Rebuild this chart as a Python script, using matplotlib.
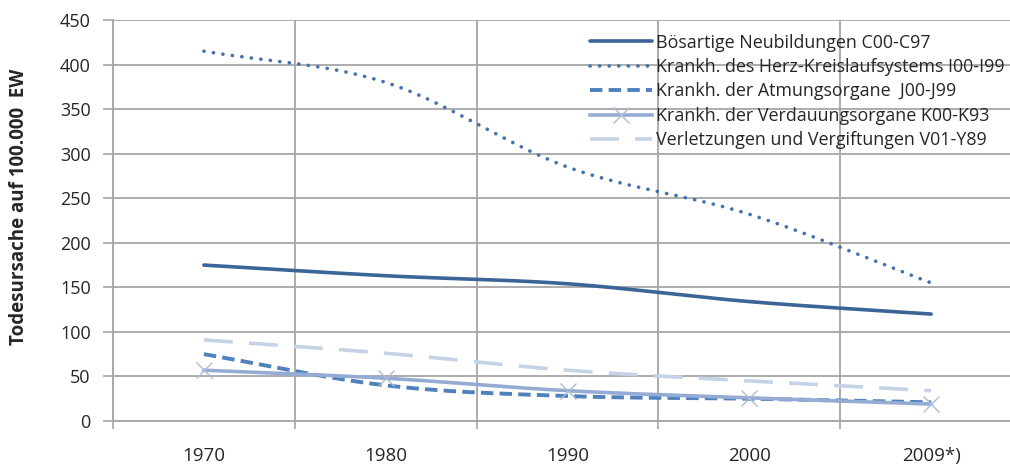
import numpy as np
import matplotlib
matplotlib.use("Agg")
import matplotlib.pyplot as plt
from matplotlib.lines import Line2D

plt.rcParams['font.family'] = ['Open Sans', 'DejaVu Sans']

years = ['1970', '1980', '1990', '2000', '2009*)']
neubildungen = [175, 163, 154, 134, 120]
herz_kreislauf = [415, 380, 285, 232, 155]
atmung = [75, 40, 28, 25, 21]
verdauung = [57, 48, 34, 26, 19]
verletzungen = [91, 76, 57, 45, 34]

labels = ['Bösartige Neubildungen C00-C97',
          'Krankh. des Herz-Kreislaufsystems I00-I99',
          'Krankh. der Atmungsorgane  J00-J99',
          'Krankh. der Verdauungsorgane K00-K93',
          'Verletzungen und Vergiftungen V01-Y89']


def smooth(y, n=40):
    """Catmull-Rom curve through the points, like Excel's smoothed line"""
    y = np.asarray(y, dtype=float)
    x = np.arange(len(y), dtype=float)
    px = np.concatenate([[2 * x[0] - x[1]], x, [2 * x[-1] - x[-2]]])
    py = np.concatenate([[2 * y[0] - y[1]], y, [2 * y[-1] - y[-2]]])
    xs, ys = [], []
    t = np.linspace(0, 1, n)
    for i in range(1, len(px) - 2):
        for p, out in ((px, xs), (py, ys)):
            p0, p1, p2, p3 = p[i - 1], p[i], p[i + 1], p[i + 2]
            out.append(0.5 * (2 * p1 + (-p0 + p2) * t
                              + (2 * p0 - 5 * p1 + 4 * p2 - p3) * t ** 2
                              + (-p0 + 3 * p1 - 3 * p2 + p3) * t ** 3))
    return np.concatenate(xs), np.concatenate(ys)


fig = plt.figure(figsize=(10.10, 4.69), dpi=100)
ax = fig.add_axes([113 / 1010, 48 / 469, 909 / 1010, 401 / 469])

x = np.arange(len(years))
grid_c = '#a6a6a6'
text_c = '#262626'

# series
sx, sy = smooth(neubildungen)
ax.plot(sx, sy, color='#3a6596', lw=2.6, solid_capstyle='round', label=labels[0])
sx, sy = smooth(herz_kreislauf)
ax.plot(sx, sy, color='#4472ac', lw=2.6, linestyle=(0, (0.05, 2.6)),
        dash_capstyle='round', label=labels[1])
sx, sy = smooth(atmung)
ax.plot(sx, sy, color='#4f81bd', lw=2.8, linestyle=(0, (3.2, 1.6)), label=labels[2])
sx, sy = smooth(verdauung)
ax.plot(sx, sy, color='#94acd3', lw=2.6, label=labels[3])
ax.plot(x, verdauung, linestyle='none', marker='x', ms=12, mew=1.0,
        color='#aabcda')
sx, sy = smooth(verletzungen)
ax.plot(sx, sy, color='#c6d2e6', lw=2.6, linestyle=(0, (8, 4.5)), label=labels[4])

# axes
ax.set_xlim(-0.5, len(years) - 0.5)
ax.set_ylim(0, 450)
ax.set_yticks(np.arange(0, 451, 50))
ax.set_xticks(x)
ax.set_xticklabels(years)
ax.set_xticks(np.arange(-0.5, len(years), 1), minor=True)
ax.tick_params(axis='x', which='major', length=0, pad=19, labelsize=13.5,
               labelcolor=text_c)
ax.tick_params(axis='x', which='minor', length=6, width=1.2, color=grid_c)
ax.tick_params(axis='y', length=7, width=1.2, color=grid_c, pad=9,
               labelsize=13, labelcolor=text_c)
ax.grid(axis='y', color=grid_c, lw=1.3)
ax.grid(axis='x', which='minor', color=grid_c, lw=1.3)
ax.set_axisbelow(True)
for side in ['top', 'right']:
    ax.spines[side].set_visible(False)
for side in ['bottom', 'left']:
    ax.spines[side].set_color(grid_c)
    ax.spines[side].set_linewidth(1.3)

ax.set_ylabel('Todesursache auf 100.000  EW', fontsize=13.5, fontweight='bold',
              color=text_c)
ax.yaxis.set_label_coords(-84 / 909, 0.535)

handles, _ = ax.get_legend_handles_labels()
handles[3] = (handles[3], Line2D([], [], linestyle='none', marker='x', ms=12,
                                 mew=1.0, color='#aabcda'))
ax.legend(handles, labels, loc='upper left', bbox_to_anchor=(470 / 909, 0.984),
          frameon=False, fontsize=12.9, handlelength=3.45, handletextpad=0.2,
          labelspacing=0.36, borderaxespad=0, labelcolor=text_c)

fig.savefig('out.png', dpi=100)
